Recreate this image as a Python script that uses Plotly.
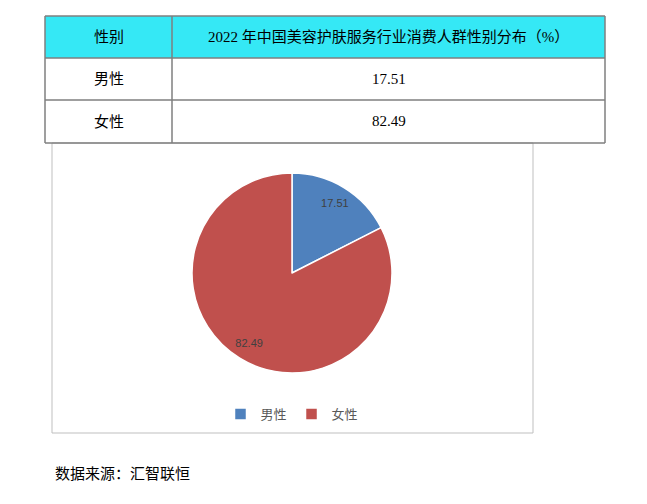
import plotly.graph_objects as go

# Data.
genders = ["男性", "女性"]
shares = [17.51, 82.49]
header_labels = ["性别", "2022 年中国美容护肤服务行业消费人群性别分布（%）"]
share_labels = ["17.51", "82.49"]
source_note = "数据来源：汇智联恒"

W, H = 647, 504
OFF = 8  # page body margin


def px(x):
    return (x - OFF) / W


def py(y):
    return 1 - (y - OFF) / H


serif = "Liberation Serif, Noto Sans CJK SC"
sans = "Noto Sans CJK SC, Liberation Sans"
grid = dict(color="#7F7F7F", width=1.5)

fig = go.Figure()

# Table on top: column edges and row edges in pixels.
col_edges = [45, 172, 605]
row_edges = [16, 58, 100, 143]
rows = [header_labels] + [[g, s] for g, s in zip(genders, share_labels)]

fig.add_shape(type="rect", xref="paper", yref="paper",
              x0=px(col_edges[0]), x1=px(col_edges[-1]),
              y0=py(row_edges[1]), y1=py(row_edges[0]),
              fillcolor="#35E8F5", line=dict(width=0))
for y in row_edges:
    fig.add_shape(type="line", xref="paper", yref="paper",
                  x0=px(col_edges[0]), x1=px(col_edges[-1]),
                  y0=py(y), y1=py(y), line=grid)
for x in col_edges:
    fig.add_shape(type="line", xref="paper", yref="paper",
                  x0=px(x), x1=px(x),
                  y0=py(row_edges[-1]), y1=py(row_edges[0]), line=grid)
for i, row in enumerate(rows):
    yc = (row_edges[i] + row_edges[i + 1]) / 2
    for j, cell in enumerate(row):
        xc = (col_edges[j] + col_edges[j + 1]) / 2
        fig.add_annotation(text=cell, xref="paper", yref="paper",
                           x=px(xc), y=py(yc), xanchor="center",
                           yanchor="middle", showarrow=False,
                           font=dict(family=serif, size=15, color="black"))

# Pie chart.
pie_domain = dict(x=[px(192), px(392)], y=[py(373), py(173)])
fig.add_trace(go.Pie(
    labels=genders, values=shares,
    textinfo="none",
    sort=False, direction="clockwise", rotation=0,
    marker=dict(colors=["#4F81BD", "#C0504D"],
                line=dict(color="white", width=1.5)),
    domain=pie_domain,
    hoverinfo="label+value",
))

# Transparent ring on top, only to place the value labels near the rim.
fig.add_trace(go.Pie(
    labels=genders, values=shares, text=share_labels,
    textinfo="text", textposition="inside",
    insidetextorientation="horizontal",
    sort=False, direction="clockwise", rotation=0, hole=0.64,
    marker=dict(colors=["rgba(0,0,0,0)", "rgba(0,0,0,0)"],
                line=dict(width=0)),
    textfont=dict(family="Liberation Sans", size=11, color="#404040"),
    domain=pie_domain, showlegend=False, hoverinfo="skip",
))

# Chart frame.
fig.add_shape(type="rect", xref="paper", yref="paper",
              x0=px(52), x1=px(533), y0=py(433), y1=py(143),
              line=dict(color="#BFBFBF", width=1), layer="below")

fig.add_annotation(text=source_note, xref="paper", yref="paper",
                   x=px(53), y=py(473), xanchor="left", yanchor="middle",
                   showarrow=False,
                   font=dict(family=serif, size=15, color="black"))

fig.update_layout(
    width=W, height=H,
    margin=dict(l=0, r=0, t=0, b=0),
    paper_bgcolor="white", plot_bgcolor="white",
    showlegend=True,
    legend=dict(orientation="h", x=px(292), xanchor="center",
                y=py(414), yanchor="middle",
                font=dict(family=sans, size=13, color="#595959"),
                itemwidth=30, bgcolor="rgba(0,0,0,0)"),
)

fig.write_html("out.html")
